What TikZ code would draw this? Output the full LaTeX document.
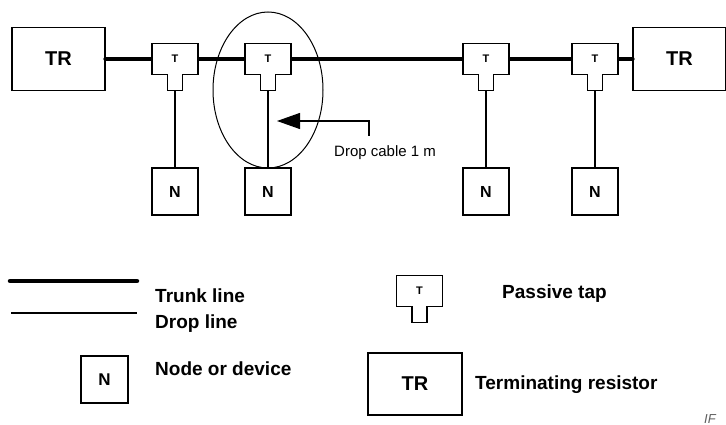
\documentclass[tikz,border=0pt]{standalone}
\usepackage{fontspec}
\setmainfont{Liberation Sans}
\usetikzlibrary{arrows.meta,calc,positioning,shapes.geometric}
\definecolor{NoteGray}{RGB}{95,95,95}
\newcommand\fsz[1]{\fontsize{#1}{#1}\selectfont\bfseries}
\newcommand\tapline[1]{%
  \draw[outline] (#1.north west) -| (#1.south east) -- ++(-15.5,0) -- ++(0,16)
    -- ++(-7.5,0) coordinate (#1-stem) -- ++(-7.5,0) -- ++(0,-16) -- (#1.south west) -- cycle;}

\begin{document}
\begin{tikzpicture}[x=1pt,y=-1pt,
    outline/.style={line width=1.2pt,line join=miter},
    trbox/.style={draw,line width=1.2pt,fill=white,minimum width=93,minimum height=63,inner sep=0pt,font=\fsz{20}},
    nbox/.style={draw,line width=1.2pt,fill=white,minimum width=46,minimum height=47,inner sep=0pt,font=\fsz{16}},
    tapbody/.style={fill=white,minimum width=46,minimum height=31,inner sep=0pt,outer sep=0pt,font=\fsz{11}},
    trunk/.style={line width=4.5pt,line cap=round},
    drop/.style={line width=1.1pt},
    legend/.style={anchor=base west,inner sep=0pt,font=\fsz{19}}]
  \useasboundingbox (0,0) rectangle (726,425);

  \node[trbox] (trL) at (58.5,59) {TR};
  \node[trbox] (trR) at (679.5,59) {TR};
  \draw[trunk] (trL) -- (trR);
  \node[draw,ellipse,line width=1pt,minimum width=110,minimum height=156] (zone) at (268,90) {};
  \foreach \n/\x in {1/175,2/268,3/486,4/595}{
    \node[tapbody] (t\n) at (\x,59) {T};
    \tapline{t\n}
    \node[nbox] (n\n) at (\x,191.5) {N};
    \draw[drop] (t\n-stem) -- (n\n);
  }

  \coordinate (cablefoot) at (369,136);
  \coordinate (cabletip) at (277,121);
  \draw[line width=1.1pt,-{Triangle[length=23pt,width=16pt]}] (cablefoot) |- (cabletip);
  \node[anchor=base west,inner sep=0pt,font=\fontsize{15}{15}\selectfont] (cable) at (334,157) {Drop cable 1 m};

  \coordinate (thickA) at (10,281);
  \coordinate (thickB) at (137,281);
  \coordinate (thinA) at (11,313);
  \coordinate (thinB) at (137,313);
  \draw[trunk] (thickA) -- (thickB);
  \draw[drop] (thinA) -- (thinB);
  \node[legend] (trunklbl) at (155,302) {Trunk line};
  \node[legend] (droplbl) at (155,328) {Drop line};

  \node[tapbody] (tL) at (419.5,291) {T};
  \tapline{tL}
  \node[legend] (taplbl) at (502,298) {Passive tap};

  \node[nbox,minimum width=47,font=\fsz{17}] (nL) at (104.5,379.5) {N};
  \node[legend] (nodelbl) at (155,375) {Node or device};

  \node[trbox,minimum width=94,minimum height=62] (trLeg) at (415,384) {TR};
  \node[legend] (trlbl) at (475,389) {Terminating resistor};

  \node[anchor=base west,inner sep=0pt,text=NoteGray,font=\fontsize{13}{13}\selectfont\itshape] (ifnote) at (704,423) {IF};
\end{tikzpicture}
\end{document}
